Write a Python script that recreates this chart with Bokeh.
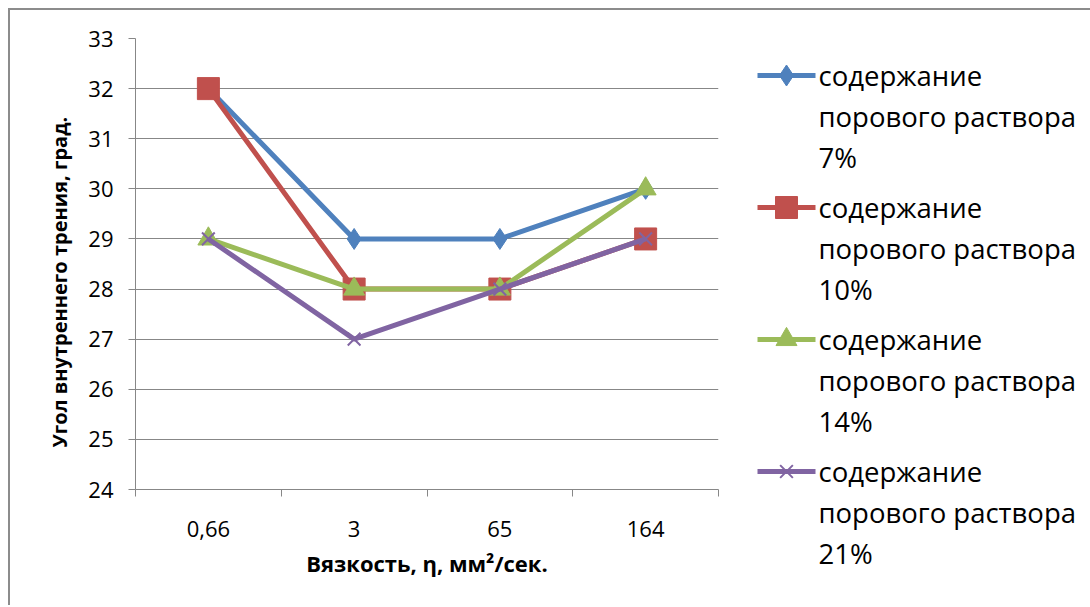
from bokeh.plotting import figure
from bokeh.models import FixedTicker, Range1d
from bokeh.core.properties import value
from bokeh.embed import file_html
from bokeh.resources import INLINE

# ---- data ----
categories = ["0,66", "3", "65", "164"]
s7 = [32, 29, 29, 30]
s10 = [32, 28, 28, 29]
s14 = [29, 28, 28, 30]
s21 = [29, 27, 28, 29]
series_labels = [
    "содержание\nпорового раствора\n7%",
    "содержание\nпорового раствора\n10%",
    "содержание\nпорового раствора\n14%",
    "содержание\nпорового раствора\n21%",
]
y_ticks = list(range(24, 34))
x_title = "Вязкость, η, мм²/сек."
y_title = "Угол внутреннего трения, град." + "\u00a0" * 7

colors = ["#4F81BD", "#C0504D", "#9BBB59", "#8064A2"]
markers = ["diamond", "square", "triangle", "x"]
msizes = [21, 22, 21, 18]

x = [i + 0.5 for i in range(len(categories))]
GRID = "#878787"
BORDER = "2px solid #8c8c8c"
FONT = "Open Sans"
H = 597

p = figure(width=730, height=H, output_backend="svg", toolbar_location=None,
           x_range=Range1d(0, len(categories)), y_range=Range1d(y_ticks[0], y_ticks[-1]),
           min_border_left=125, min_border_right=22, min_border_top=28, min_border_bottom=118)
p.styles = {"position": "absolute", "left": "8px", "top": "8px",
            "border-left": BORDER, "border-top": BORDER}
p.outline_line_color = None
p.background_fill_color = "white"
p.border_fill_color = "white"

# y axis
p.yaxis.ticker = FixedTicker(ticks=y_ticks)
p.yaxis.major_tick_out = 7
p.yaxis.major_tick_in = 0
p.yaxis.minor_tick_out = 0
p.yaxis.minor_tick_in = 0
p.yaxis.axis_line_color = GRID
p.yaxis.major_tick_line_color = GRID
p.yaxis.major_label_text_font = FONT
p.yaxis.major_label_text_font_size = "22px"
p.yaxis.major_label_text_color = "black"
p.yaxis.major_label_standoff = 15
p.yaxis.axis_label = y_title
p.yaxis.axis_label_text_font = FONT
p.yaxis.axis_label_text_font_style = "bold"
p.yaxis.axis_label_text_font_size = "20px"
p.yaxis.axis_label_text_color = "black"
p.yaxis.axis_label_standoff = 12

# x axis: labels at category centres, tick marks at boundaries
p.xaxis.ticker = FixedTicker(ticks=x, minor_ticks=list(range(len(categories) + 1)))
p.xaxis.major_label_overrides = {xi: c for xi, c in zip(x, categories)}
p.xaxis.major_tick_out = 0
p.xaxis.major_tick_in = 0
p.xaxis.minor_tick_out = 7
p.xaxis.minor_tick_in = 0
p.xaxis.minor_tick_line_color = GRID
p.xaxis.axis_line_color = GRID
p.xaxis.major_label_text_font = FONT
p.xaxis.major_label_text_font_size = "22px"
p.xaxis.major_label_text_color = "black"
p.xaxis.major_label_standoff = 24
p.xaxis.axis_label = x_title
p.xaxis.axis_label_text_font = FONT
p.xaxis.axis_label_text_font_style = "bold"
p.xaxis.axis_label_text_font_size = "22px"
p.xaxis.axis_label_text_color = "black"
p.xaxis.axis_label_standoff = 8

p.xgrid.grid_line_color = None
p.ygrid.ticker = FixedTicker(ticks=y_ticks)
p.ygrid.grid_line_color = GRID
p.ygrid.grid_line_width = 1


def draw_marker(fig, xs, ys, m, s, c):
    if m == "x":
        fig.scatter(xs, ys, marker=m, size=s, line_color=c, line_width=2)
    else:
        fig.scatter(xs, ys, marker=m, size=s, fill_color=c, line_color=c)


for ys, c, m, s in zip([s7, s10, s14, s21], colors, markers, msizes):
    p.line(x, ys, line_color=c, line_width=5)
    draw_marker(p, x, ys, m, s, c)

# ---- legend panel (separate figure, pixel coordinates, y from top) ----
LW = 352
leg = figure(width=LW, height=H, output_backend="svg", toolbar_location=None,
             x_range=Range1d(0, LW), y_range=Range1d(H, 0),
             x_axis_type=None, y_axis_type=None,
             min_border=0, min_border_left=0, min_border_right=0,
             min_border_top=0, min_border_bottom=0)
leg.styles = {"position": "absolute", "left": "738px", "top": "8px", "border-top": BORDER}
leg.outline_line_color = None
leg.xgrid.grid_line_color = None
leg.ygrid.grid_line_color = None
leg.background_fill_color = "white"
leg.border_fill_color = "white"

LEG_TOP = 65      # centre of first line of first entry
LEG_PITCH = 132   # distance between entries
LINE_H = 41       # distance between text lines
GX0, GX1, TX = 19, 77, 80

for i, (c, m, s, lab) in enumerate(zip(colors, markers, msizes, series_labels)):
    yc = LEG_TOP + i * LEG_PITCH
    leg.line([GX0, GX1], [yc, yc], line_color=c, line_width=5)
    draw_marker(leg, [(GX0 + GX1) / 2], [yc], m, s, c)
    parts = lab.split("\n")
    leg.text([TX] * len(parts), [yc + k * LINE_H for k in range(len(parts))], text=parts,
             text_font=value(FONT), text_font_size="27.5px", text_color="black",
             text_baseline="middle", text_align="left")

open("out.html", "w").write(file_html([p, leg], INLINE))
